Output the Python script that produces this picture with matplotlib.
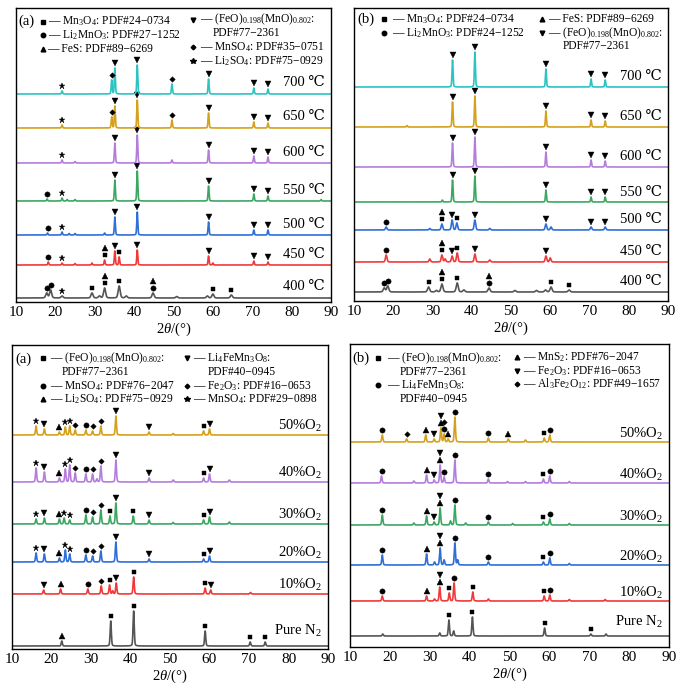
import numpy as np
import matplotlib
matplotlib.use("Agg")
import matplotlib.pyplot as plt

plt.rcParams.update({
    "font.family": ["Liberation Serif", "DejaVu Serif", "Noto Sans CJK SC"],
    "mathtext.fontset": "custom",
    "mathtext.rm": "Liberation Serif",
    "mathtext.it": "Liberation Serif:italic",
    "mathtext.bf": "Liberation Serif:bold",
    "font.size": 10,
    "axes.linewidth": 1.0,
})

# ---------------- data (2theta in deg, intensity in arbitrary units) -------------
# (a) temperature series, bottom -> top
TA_LABELS = ["400 ℃", "450 ℃", "500 ℃", "550 ℃", "600 ℃", "650 ℃", "700 ℃"]
TA_PEAKS = [
    [(17.8, 5), (18.8, 8), (21.7, 2), (29.3, 5), (31.2, 2), (32.5, 10), (36.2, 12),
     (38.0, 2), (44.8, 5), (50.8, 1.5), (58.6, 2), (60.0, 4), (64.7, 3)],
    [(18.2, 3), (21.7, 2), (25.0, 1.5), (29.3, 2), (32.5, 5), (35.1, 14), (36.2, 8),
     (40.8, 15), (58.9, 9), (60.0, 2), (70.4, 4), (74.0, 3)],
    [(18.0, 2), (21.7, 3), (23.5, 1.5), (25.0, 1.5), (32.5, 2), (35.1, 18), (40.8, 23),
     (58.9, 13), (70.4, 5), (74.0, 5)],
    [(17.9, 2), (21.7, 3), (23.0, 1.5), (25.0, 1.5), (35.1, 21), (40.8, 30), (58.9, 15),
     (70.4, 7), (74.0, 5), (87.5, 1.5)],
    [(21.7, 3), (25.0, 1.5), (35.1, 20), (40.8, 28), (49.6, 3), (58.9, 13), (70.4, 7), (74.0, 6)],
    [(21.7, 3), (34.3, 11), (35.1, 22), (40.8, 28), (49.6, 8), (58.9, 15), (70.4, 6), (74.0, 5)],
    [(21.7, 3), (34.3, 14), (35.1, 26), (40.8, 29), (49.6, 10), (58.9, 15), (70.4, 6), (74.0, 5)],
]
TA_WIDTHS = [0.6, 0.3, 0.3, 0.3, 0.3, 0.3, 0.3]
TA_MARKS = [
    [(17.8, "o", 0), (18.8, "o", 0), (21.7, "*", 0), (29.3, "s", 0), (32.5, "s", 0), (32.5, "^", 1),
     (36.2, "s", 0), (44.8, "o", 0), (44.8, "^", 1), (60.0, "s", 0), (64.7, "s", 0)],
    [(18.2, "o", 0), (21.7, "*", 0), (32.5, "s", 0), (32.5, "^", 1), (35.1, "v", 0), (36.2, "s", 0),
     (40.8, "v", 0), (58.9, "v", 0), (70.4, "v", 0), (74.0, "v", 0)],
    [(18.0, "o", 0), (21.7, "*", 0), (35.1, "v", 0), (40.8, "v", 0), (58.9, "v", 0), (70.4, "v", 0), (74.0, "v", 0)],
    [(17.9, "o", 0), (21.7, "*", 0), (35.1, "v", 0), (40.8, "v", 0), (58.9, "v", 0), (70.4, "v", 0), (74.0, "v", 0)],
    [(21.7, "*", 0), (35.1, "v", 0), (40.8, "v", 0), (58.9, "v", 0), (70.4, "v", 0), (74.0, "v", 0)],
    [(21.7, "*", 0), (34.3, "D", 0), (35.1, "v", 0), (40.8, "v", 0), (49.6, "D", 0), (58.9, "v", 0),
     (70.4, "v", 0), (74.0, "v", 0)],
    [(21.7, "*", 0), (34.3, "D", 0), (35.1, "v", 0), (40.8, "v", 0), (49.6, "D", 0), (58.9, "v", 0),
     (70.4, "v", 0), (74.0, "v", 0)],
]

# (b) temperature series, bottom -> top
TB_LABELS = TA_LABELS
TB_PEAKS = [
    [(17.7, 4), (18.6, 6), (29.0, 5), (31.0, 1.5), (32.4, 8), (36.3, 9), (38.0, 2), (44.4, 4),
     (51.0, 1.5), (56.5, 1.5), (58.8, 2), (60.2, 5), (64.8, 2)],
    [(18.2, 7), (29.3, 3), (32.4, 7), (33.2, 3), (35.0, 6), (36.3, 9), (40.8, 8), (44.6, 2),
     (58.9, 6), (60.0, 4)],
    [(18.2, 3), (29.3, 1.5), (32.4, 6), (35.0, 10), (36.2, 7), (40.8, 10), (44.6, 1.5), (58.9, 6),
     (60.2, 3), (70.4, 3), (74.0, 3)],
    [(32.5, 2), (35.1, 22), (40.8, 26), (58.9, 12), (70.4, 5), (74.0, 5)],
    [(35.1, 24), (40.8, 30), (58.9, 15), (70.4, 7), (74.0, 6)],
    [(23.5, 1.5), (35.1, 25), (40.8, 31), (58.9, 16), (70.4, 7), (74.0, 6)],
    [(35.1, 27), (40.8, 35), (58.9, 18), (70.4, 8), (74.0, 7)],
]
TB_WIDTHS = [0.6, 0.45, 0.45, 0.3, 0.3, 0.3, 0.3]
_V5 = [(35.1, "v", 0), (40.8, "v", 0), (58.9, "v", 0), (70.4, "v", 0), (74.0, "v", 0)]
TB_MARKS = [
    [(17.7, "o", 0), (18.6, "o", 0), (29.0, "s", 0), (32.4, "s", 0), (32.4, "^", 1), (36.3, "s", 0),
     (44.4, "o", 0), (44.4, "^", 1), (60.2, "s", 0), (64.8, "s", 0)],
    [(18.2, "o", 0), (32.4, "s", 0), (32.4, "^", 1), (35.0, "v", 0), (36.3, "s", 0), (40.8, "v", 0),
     (58.9, "v", 0)],
    [(18.2, "o", 0), (32.4, "s", 0), (32.4, "^", 1), (35.0, "v", 0), (36.2, "s", 0), (40.8, "v", 0),
     (58.9, "v", 0), (70.4, "v", 0), (74.0, "v", 0)],
    _V5, _V5, _V5, _V5,
]

# (a) oxygen series, bottom -> top
OA_LABELS = ["Pure N$_2$", "10%O$_2$", "20%O$_2$", "30%O$_2$", "40%O$_2$", "50%O$_2$"]
OA_PEAKS = [
    [(22.6, 5), (35.0, 25), (40.8, 35), (58.9, 15), (70.3, 4), (74.1, 4)],
    [(18.0, 4), (22.3, 5), (29.2, 5), (32.6, 8), (34.7, 9), (35.5, 3), (36.4, 11), (40.8, 17),
     (58.9, 6), (60.3, 4), (70.4, 1.5)],
    [(16.1, 9), (18.2, 8), (22.0, 4), (23.5, 12), (24.6, 8), (28.7, 7), (30.4, 6), (32.5, 11),
     (36.3, 20), (44.7, 3), (58.5, 3), (60.0, 6)],
    [(16.1, 5), (18.2, 6), (22.0, 5), (23.2, 6), (24.6, 4), (28.7, 9), (30.4, 7), (32.5, 14),
     (34.8, 8), (36.3, 21), (40.7, 8), (44.7, 4), (50.8, 1.5), (58.5, 4), (60.0, 7), (65.0, 2)],
    [(16.1, 14), (18.2, 10), (22.0, 4), (23.5, 13), (24.6, 17), (26.0, 9), (28.7, 8), (30.4, 8),
     (31.5, 3), (32.5, 16), (36.3, 22), (44.7, 4), (50.8, 2), (58.5, 4), (60.0, 8), (65.0, 2)],
    [(16.1, 9), (18.2, 6), (22.0, 3), (23.5, 8), (24.6, 9), (26.0, 5), (28.7, 5), (30.4, 4),
     (32.5, 9), (36.3, 19), (44.7, 3), (50.8, 1.5), (58.5, 4), (60.0, 6)],
]
OA_WIDTHS = [0.35] * 6
OA_MARKS = [
    [(22.6, "^", 0), (35.0, "s", 0), (40.8, "s", 0), (58.9, "s", 0), (70.3, "s", 0), (74.1, "s", 0)],
    [(18.0, "v", 0), (22.3, "^", 0), (29.2, "o", 0), (32.6, "D", 0), (34.7, "s", 0), (36.4, "v", 0),
     (40.8, "s", 0), (58.9, "s", 0), (60.3, "v", 0)],
    [(16.1, "*", 0), (18.2, "v", 0), (22.0, "^", 0), (23.5, "*", 0), (24.6, "*", 0), (28.7, "o", 0),
     (30.4, "D", 0), (32.5, "D", 0), (36.3, "v", 0), (44.7, "v", 0), (58.5, "s", 0), (60.0, "v", 0)],
    [(16.1, "*", 0), (18.2, "v", 0), (22.0, "^", 0), (23.2, "*", 0), (24.6, "*", 0), (28.7, "o", 0),
     (30.4, "D", 0), (32.5, "D", 0), (34.8, "s", 0), (36.3, "v", 0), (40.7, "s", 0), (44.7, "v", 0),
     (58.5, "s", 0), (60.0, "v", 0)],
    [(16.1, "*", 0), (18.2, "v", 0), (22.0, "^", 0), (23.5, "*", 0), (24.6, "*", 0), (26.0, "D", 0),
     (28.7, "o", 0), (30.4, "D", 0), (32.5, "D", 0), (36.3, "v", 0), (44.7, "v", 0), (58.5, "s", 0),
     (60.0, "v", 0)],
    [(16.1, "*", 0), (18.2, "v", 0), (22.0, "^", 0), (23.5, "*", 0), (24.6, "*", 0), (26.0, "D", 0),
     (28.7, "o", 0), (30.4, "D", 0), (32.5, "D", 0), (36.3, "v", 0), (44.7, "v", 0), (58.5, "s", 0),
     (60.0, "v", 0)],
]

# (b) oxygen series, bottom -> top
OB_LABELS = OA_LABELS
OB_PEAKS = [
    [(18.2, 2), (32.5, 3), (34.8, 16), (36.0, 5), (40.7, 19), (58.8, 8), (70.4, 2), (74.2, 2)],
    [(18.1, 5), (29.2, 5), (31.2, 2), (32.5, 14), (34.9, 8), (36.1, 18), (40.8, 9), (44.7, 2),
     (58.7, 5), (60.1, 6), (65.0, 1.5), (74.0, 1.5)],
    [(18.1, 10), (29.2, 11), (31.2, 3), (32.6, 17), (33.6, 5), (36.3, 22), (37.0, 5), (44.7, 3),
     (58.5, 3), (60.1, 7), (65.0, 1.5)],
    [(18.1, 10), (26.0, 2), (29.2, 9), (31.1, 3), (32.6, 17), (35.2, 4), (36.3, 20), (39.0, 2),
     (44.7, 3), (50.8, 1.5), (58.5, 3), (60.1, 6), (65.0, 1.5)],
    [(17.9, 7), (26.0, 2), (29.2, 8), (31.1, 3), (32.6, 18), (33.6, 6), (36.3, 23), (44.7, 4),
     (49.5, 1.5), (54.0, 1.5), (58.5, 4), (60.1, 7), (65.0, 1.5)],
    [(18.1, 7), (24.2, 3), (29.0, 7), (31.1, 3), (32.8, 14), (33.6, 8), (34.6, 3), (36.3, 25),
     (44.7, 4), (49.7, 3), (54.0, 2), (58.7, 4), (60.1, 7)],
]
OB_WIDTHS = [0.35] * 6
OB_MARKS = [
    [(34.8, "s", 0), (40.7, "s", 0), (58.8, "s", 0), (70.4, "s", 0)],
    [(18.1, "o", 0), (29.2, "^", 0), (32.5, "^", 0), (32.5, "v", 1), (34.9, "s", 0), (36.1, "o", 0),
     (40.8, "s", 0), (58.7, "s", 0), (60.1, "o", 0)],
    [(18.1, "o", 0), (29.2, "^", 0), (32.6, "^", 0), (32.6, "v", 1), (36.3, "o", 0), (44.7, "o", 0),
     (58.5, "s", 0), (60.1, "o", 0)],
    [(18.1, "o", 0), (29.2, "^", 0), (31.1, "v", 0), (32.6, "^", 0), (32.6, "v", 1), (36.3, "o", 0),
     (44.7, "o", 0), (58.5, "s", 0), (60.1, "o", 0)],
    [(17.9, "o", 0), (29.2, "^", 0), (31.1, "v", 0), (32.6, "^", 0), (32.6, "v", 1), (33.6, "o", 0),
     (36.3, "o", 0), (44.7, "o", 0), (58.5, "s", 0), (60.1, "o", 0)],
    [(18.1, "o", 0), (24.2, "D", 0), (29.0, "^", 0), (31.1, "v", 0), (32.8, "^", 0), (32.8, "v", 1),
     (33.6, "o", 0), (33.6, "D", 1), (34.6, "^", 0), (36.3, "o", 0), (44.7, "o", 0), (49.7, "^", 0),
     (58.7, "s", 0), (60.1, "o", 0)],
]

# phase legends: (marker, first line, continuation line)
TA_LEGEND = [("s", "Mn$_3$O$_4$: PDF#24−0734", None),
             ("o", "Li$_2$MnO$_3$: PDF#27−1252", None),
             ("^", "FeS: PDF#89−6269", None),
             ("v", "(FeO)$_{0.198}$(MnO)$_{0.802}$:", "PDF#77−2361"),
             ("D", "MnSO$_4$: PDF#35−0751", None),
             ("*", "Li$_2$SO$_4$: PDF#75−0929", None)]
TB_LEGEND = [("s", "Mn$_3$O$_4$: PDF#24−0734", None),
             ("o", "Li$_2$MnO$_3$: PDF#24−1252", None),
             ("^", "FeS: PDF#89−6269", None),
             ("v", "(FeO)$_{0.198}$(MnO)$_{0.802}$:", "PDF#77−2361")]
OA_LEGEND = [("s", "(FeO)$_{0.198}$(MnO)$_{0.802}$:", "PDF#77−2361"),
             ("o", "MnSO$_4$: PDF#76−2047", None),
             ("^", "Li$_2$SO$_4$: PDF#75−0929", None),
             ("v", "Li$_4$FeMn$_3$O$_8$:", "PDF#40−0945"),
             ("D", "Fe$_2$O$_3$: PDF#16−0653", None),
             ("*", "MnSO$_4$: PDF#29−0898", None)]
OB_LEGEND = [("s", "(FeO)$_{0.198}$(MnO)$_{0.802}$:", "PDF#77−2361"),
             ("o", "Li$_4$FeMn$_3$O$_8$:", "PDF#40−0945"),
             ("^", "MnS$_2$: PDF#76−2047", None),
             ("v", "Fe$_2$O$_3$: PDF#16−0653", None),
             ("D", "Al$_3$Fe$_2$O$_{12}$: PDF#49−1657", None)]

# ---------------- style / layout -------------
TEMP_COLORS = ["#555555", "#f03a3a", "#2f6fd8", "#3ba862", "#b47ddc", "#d5a11c", "#2cc3c3"]
O2_COLORS = TEMP_COLORS[:6]
MS = {"s": 3.3, "o": 3.8, "^": 4.0, "v": 4.0, "D": 2.8, "*": 4.6}
LEG_FS = 8.3

TWO_THETA = np.linspace(10, 90, 4001)


def profile(peaks, width):
    y = np.zeros_like(TWO_THETA)
    hw = width / 2
    for pos, h in peaks:
        g = np.exp(-np.log(2) * ((TWO_THETA - pos) / hw) ** 2)
        lo = 1 / (1 + ((TWO_THETA - pos) / hw) ** 2)
        y += h * (0.75 * g + 0.25 * lo)
    return y


def draw_panel(fig, rect, labels, colors, peaks, widths, marks, offsets, lab_dy,
               legend, leg_pos, tag, tag_pos):
    ax = fig.add_axes(rect)
    height_px = rect[3] * 694
    for i, lab in enumerate(labels):
        y = profile(peaks[i], widths[i])
        off = offsets[i]
        ax.plot(TWO_THETA, y + off, color=colors[i], lw=1.2)
        for pos, sym, lev in marks[i]:
            win = np.abs(TWO_THETA - pos) < 0.35
            top = y[win].max()
            ax.plot(pos, off + top + 5 + lev * 7, marker=sym, color="k",
                    ms=MS[sym], mec="k", mew=0.3, ls="none")
        ax.text(0.981, off + lab_dy[i], lab, transform=ax.get_yaxis_transform(),
                ha="right", va="center", fontsize=10.5)
    ax.set_xlim(10, 90)
    ax.set_ylim(0, height_px)
    ax.set_xticks(range(10, 91, 10))
    ax.set_yticks([])
    ax.tick_params(axis="x", length=0, pad=3, labelsize=11)
    ax.set_xlabel(r"2$\theta$/(°)", fontsize=10.5, labelpad=1)

    ax.text(tag_pos[0], tag_pos[1], tag, transform=ax.transAxes, ha="left",
            va="center", fontsize=10.5)
    for (sym, line1, line2), (mx, tx, ty, cx) in zip(legend, leg_pos):
        ax.plot(mx, ty, marker=sym, color="k", ms=MS[sym] * 0.85, transform=ax.transAxes,
                clip_on=False, ls="none")
        ax.text(tx, ty, "— " + line1, transform=ax.transAxes, ha="left", va="center",
                fontsize=LEG_FS)
        if line2:
            ax.text(cx, ty - 0.046, line2, transform=ax.transAxes, ha="left",
                    va="center", fontsize=LEG_FS)
    return ax


def main():
    fig = plt.figure(figsize=(6.87, 6.94), dpi=100)

    # top-left
    draw_panel(fig, [16 / 687, 1 - 302 / 694, 315 / 687, 294 / 694],
               TA_LABELS, TEMP_COLORS, TA_PEAKS, TA_WIDTHS, TA_MARKS,
               [4, 37, 67, 101, 139, 174, 208], [11] * 7, TA_LEGEND,
               [(0.086, 0.100, 0.954, 0), (0.086, 0.100, 0.907, 0), (0.086, 0.100, 0.860, 0),
                (0.562, 0.584, 0.960, 0.625), (0.562, 0.584, 0.866, 0),
                (0.562, 0.584, 0.819, 0)],
               "(a)", (0.006, 0.954))
    # top-right
    draw_panel(fig, [354 / 687, 1 - 301 / 694, 314 / 687, 293 / 694],
               TB_LABELS, TEMP_COLORS, TB_PEAKS, TB_WIDTHS, TB_MARKS,
               [9, 39, 71, 99, 134, 174, 214], [10] * 7, TB_LEGEND,
               [(0.096, 0.121, 0.962, 0), (0.096, 0.121, 0.915, 0),
                (0.599, 0.618, 0.962, 0), (0.599, 0.618, 0.915, 0.666)],
               "(b)", (0.01, 0.962))
    # bottom-left
    draw_panel(fig, [12 / 687, 1 - 649 / 694, 316 / 687, 304 / 694],
               OA_LABELS, O2_COLORS, OA_PEAKS, OA_WIDTHS, OA_MARKS,
               [3, 55, 87, 125, 167, 214], [15, 9, 9, 9, 9, 9], OA_LEGEND,
               [(0.098, 0.12, 0.956, 0.158), (0.098, 0.12, 0.866, 0), (0.098, 0.12, 0.821, 0),
                (0.554, 0.573, 0.956, 0.62), (0.554, 0.573, 0.866, 0), (0.554, 0.573, 0.821, 0)],
               "(a)", (0.01, 0.953))
    # bottom-right
    draw_panel(fig, [350 / 687, 1 - 647 / 694, 319 / 687, 303 / 694],
               OB_LABELS, O2_COLORS, OB_PEAKS, OB_WIDTHS, OB_MARKS,
               [11, 46, 82, 122, 164, 205], [14, 8, 8, 8, 8, 8], OB_LEGEND,
               [(0.088, 0.116, 0.954, 0.157), (0.088, 0.116, 0.864, 0.157),
                (0.523, 0.542, 0.956, 0), (0.523, 0.542, 0.912, 0), (0.523, 0.542, 0.868, 0)],
               "(b)", (0.006, 0.954))

    fig.savefig("out.png", dpi=100)


if __name__ == "__main__":
    main()
